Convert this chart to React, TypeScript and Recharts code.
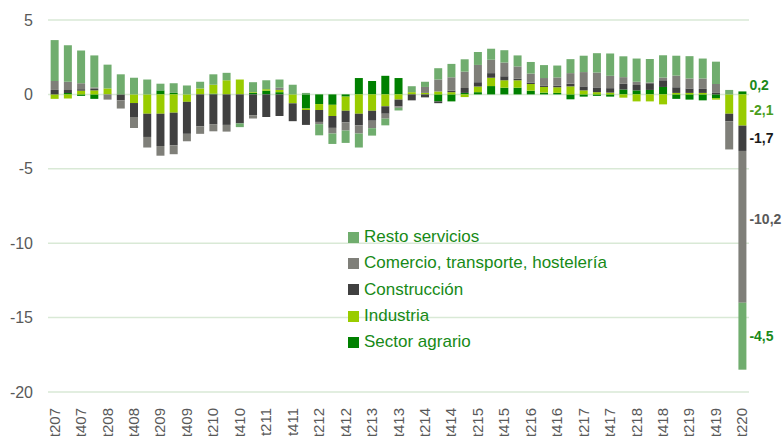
import { BarChart, Bar, XAxis, YAxis, CartesianGrid, LabelList } from 'recharts';

const trimestres = [
  't207', 't307', 't407',
  't108', 't208', 't308', 't408',
  't109', 't209', 't309', 't409',
  't110', 't210', 't310', 't410',
  't111', 't211', 't311', 't411',
  't112', 't212', 't312', 't412',
  't113', 't213', 't313', 't413',
  't114', 't214', 't314', 't414',
  't115', 't215', 't315', 't415',
  't116', 't216', 't316', 't416',
  't117', 't217', 't317', 't417',
  't118', 't218', 't318', 't418',
  't119', 't219', 't319', 't419',
  't120', 't220',
];

const agrario = [
  0, 0.1, -0.1,
  -0.3, 0, 0, 0,
  0, 0.27, 0.1, 0,
  0, 0.05, 0, 0,
  0.1, 0.25, 0.15, 0,
  -0.95, -0.65, -0.7, -0.15,
  1.1, 0.9, 1.25, 1.1,
  0, 0, -0.47, -0.47,
  0.1, 0.15, 0.56, 0.45,
  0.45, 0.25, 0.12, 0.1,
  -0.33, -0.15, -0.1, -0.15,
  0.33, 0.27, 0.3, 0.5,
  -0.3, -0.35, -0.4, -0.25,
  0, 0.2,
];

const industria = [
  -0.3, -0.27, 0.25,
  0.27, 0.4, 0, -0.58,
  -1.3, -1.3, -1.23, -0.5,
  0.4, 0.6, 0.95, 1.0,
  0.05, 0.1, 0.15, -0.6,
  -0.1, -0.4, -0.75, -0.95,
  -1.3, -1.1, -0.8, -0.35,
  0.15, 0.1, 0.2, 0.15,
  -0.18, 0.38, 0.56, 0.5,
  0.5, 0.45, 0.38, 0.38,
  0.54, 0.27, 0.15, 0.12,
  -0.22, -0.47, -0.47, -0.67,
  0.1, 0.1, 0.1, -0.1,
  -1.3, -2.1,
];

const construccion = [
  0.3, 0.2, 0.1,
  0.1, 0, -0.4, -0.94,
  -1.56, -2.17, -2.19, -2.15,
  -2.15, -2.0, -2.05, -1.95,
  -1.4, -1.52, -1.45, -1.2,
  -1.0, -0.8, -0.8, -0.78,
  -0.78, -0.67, -0.5, -0.45,
  -0.4, -0.2, -0.12, 0.1,
  0.33, 0.29, 0.31, 0.27,
  0.1, 0.1, 0.1, 0.1,
  0.18, 0.27, 0.32, 0.3,
  0.38, 0.36, 0.45, 0.45,
  0.38, 0.3, 0.27, 0.1,
  -0.5, -1.7,
];

const comercio = [
  0.6, 0.55, 0.4,
  0.1, -0.35, -0.55, -0.74,
  -0.71, -0.65, -0.6, -0.5,
  -0.5, -0.48, -0.45, 0,
  -0.22, 0, 0.15, 0,
  0, -0.15, -0.38, -0.55,
  -0.55, -0.5, -0.33, -0.1,
  0, 0.4, 0.8, 0.9,
  1.1, 1.16, 0.9, 0.92,
  0.83, 0.6, 0.5, 0.56,
  0.71, 0.96, 1.0, 0.83,
  0.45, 0.22, 0.05, 0.18,
  0.78, 0.67, 0.7, 0.6,
  -1.9, -10.2,
];

const resto = [
  2.75, 2.45, 2.2,
  2.15, 1.6, 1.35, 1.12,
  1.0, 0.45, 0.65, 0.6,
  0.45, 0.7, 0.5, -0.25,
  0.67, 0.6, 0.55, 0.65,
  0.1, -0.75, -0.7, -0.83,
  -0.94, -0.5, -0.45, -0.18,
  0.4, 0.35, 0.76, 0.9,
  0.83, 0.87, 0.74, 0.83,
  0.74, 0.78, 0.87, 0.8,
  0.94, 1.1, 1.3, 1.5,
  1.4, 1.56, 1.58, 1.5,
  1.34, 1.5, 1.34, 1.5,
  0.3, -4.5,
];

const yTicks = [5, 0, -5, -10, -15, -20];

const data = trimestres.map((t, i) => ({
  t,
  agrario: agrario[i],
  industria: industria[i],
  construccion: construccion[i],
  comercio: comercio[i],
  resto: resto[i],
}));

// orden de apilado: el primero queda junto al eje
const series = [
  { key: 'agrario', name: 'Sector agrario', color: '#008000', label: '#1a8a1a', dy: -8 },
  { key: 'industria', name: 'Industria', color: '#99cc00', label: '#4a9e1c', dy: 0 },
  { key: 'construccion', name: 'Construcción', color: '#404040', label: '#1a1a1a', dy: 0 },
  { key: 'comercio', name: 'Comercio, transporte, hostelería', color: '#7f7f79', label: '#595959', dy: -8 },
  { key: 'resto', name: 'Resto servicios', color: '#70ad6e', label: '#1a8a1a', dy: 0 },
];

const font = '"Liberation Sans", Arial, sans-serif';

const XTick = ({ x, y, payload }: any) => (
  <g transform={`translate(${x},${y})`}>
    <text x={-8} y={0} dy={5} textAnchor="end" transform="rotate(-90)" fill="#595959" fontSize={15} fontFamily={font}>
      {payload.value}
    </text>
  </g>
);

const lastLabel = (color: string, dy: number) => (props: any) => {
  const { x, y, width, height, value, index } = props;
  const isLast = index === trimestres.length - 1 || Number(x) > 735;
  if (!isLast) return null;
  const v = Array.isArray(value) ? value[1] - value[0] : Number(value);
  return (
    <text
      x={Number(x) + Number(width) + 3}
      y={Number(y) + Number(height) / 2 + dy}
      dy={5}
      fill={color}
      fontSize={14}
      fontWeight="bold"
      fontFamily={font}
    >
      {v.toFixed(1).replace('.', ',')}
    </text>
  );
};

export default function App() {
  return (
    <div style={{ position: 'absolute', left: 0, top: 0, width: 782, height: 436, background: '#fff' }}>
      <BarChart
        width={782}
        height={436}
        data={data}
        stackOffset="sign"
        barCategoryGap="20%"
        margin={{ top: 20, right: 33, left: 0, bottom: 0 }}
      >
        <CartesianGrid horizontal vertical={false} stroke="#d9e9d6" strokeWidth={1.5} />
        <XAxis
          dataKey="t"
          interval={1}
          axisLine={false}
          tickLine={false}
          height={44}
          tick={<XTick />}
        />
        <YAxis
          width={48}
          domain={[-20, 5]}
          ticks={yTicks}
          axisLine={false}
          tickLine={false}
          tickMargin={9}
          tick={{ fill: '#595959', fontSize: 16, fontFamily: font }}
        />
        {series.map(s => (
          <Bar key={s.key} dataKey={s.key} name={s.name} stackId="a" fill={s.color} isAnimationActive={false}>
            <LabelList dataKey={s.key} content={lastLabel(s.label, s.dy)} />
          </Bar>
        ))}
      </BarChart>
      <div style={{ position: 'absolute', left: 348, top: 224, fontFamily: font, fontSize: 17, color: '#178a17' }}>
        {[...series].reverse().map(s => (
          <div key={s.key} style={{ display: 'flex', alignItems: 'center', height: 26.3 }}>
            <div style={{ width: 11, height: 11, background: s.color, marginRight: 5 }} />
            <span>{s.name}</span>
          </div>
        ))}
      </div>
    </div>
  );
}
